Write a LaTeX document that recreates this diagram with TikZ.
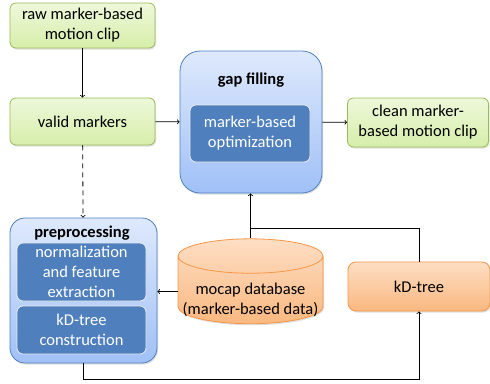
\documentclass[tikz,border=0pt]{standalone}
\usepackage{fontspec}
\setmainfont{Carlito}
\usepackage{tikz}
\usetikzlibrary{calc,shapes.geometric,arrows,shadows}

\definecolor{greenline}{RGB}{155,187,89}
\definecolor{greentop}{RGB}{238,248,218}
\definecolor{greenbot}{RGB}{214,238,170}
\definecolor{blueline}{RGB}{79,129,189}
\definecolor{bluetop}{RGB}{222,233,252}
\definecolor{bluebot}{RGB}{160,192,247}
\definecolor{blueinner}{RGB}{79,128,189}
\definecolor{orangeline}{RGB}{247,150,70}
\definecolor{orangetop}{RGB}{253,222,196}
\definecolor{orangebot}{RGB}{250,184,128}

\begin{document}
\begin{tikzpicture}[
x=1pt, y=-1pt,
font=\fontsize{16.5}{20}\selectfont,
shade/.style={drop shadow={opacity=.25, shadow xshift=1pt, shadow yshift=-1.5pt}},
io/.style={
	rectangle, rounded corners=6pt, draw=greenline, thick,
	top color=greentop, bottom color=greenbot,
	align=center, text=black, inner sep=2pt, shade
},
stage/.style={
	rectangle, draw=blueline, thick,
	top color=bluetop, bottom color=bluebot, shade
},
task/.style={
	rectangle, rounded corners=6pt, draw=white!85!gray, thick,
	fill=blueinner, text=white, align=center, inner sep=2pt,
	minimum width=129pt
},
data/.style={
	draw=orangeline, thick,
	top color=orangetop, bottom color=orangebot,
	align=center, text=black, shade
},
->, thick
]
\useasboundingbox (0,0) rectangle (490,383);

% input / output clips
\node[io, minimum width=145pt, minimum height=45pt] (raw) at (82.5,25.5) {raw marker-based\\motion clip};
\node[io, minimum width=145pt, minimum height=47pt] (valid) at (82.5,121.5) {valid markers};
\node[io, minimum width=141pt, minimum height=49pt] (clean) at (418,122.5) {clean marker-\\based motion clip};

% gap filling
\node[stage, rounded corners=20pt, minimum width=142pt, minimum height=142pt] (gap) at (251,122) {};
\node[font=\fontsize{16.5}{20}\selectfont\bfseries] (gaptitle) at (251,80) {gap filling};
\node[task, minimum width=120pt, minimum height=57pt] (opt) at (250,133.5) {marker-based\\optimization};

% preprocessing
\node[stage, rounded corners=15pt, minimum width=147pt, minimum height=145pt] (prep) at (83.5,290.5) {};
\node[font=\fontsize{16.5}{20}\selectfont\bfseries] (preptitle) at (82,233) {preprocessing};
\node[task, minimum height=58pt] (norm) at (81.5,272) {normalization\\and feature\\extraction};
\node[task, minimum height=48pt] (kdc) at (81.5,330) {kD-tree\\construction};

% data
\node[data, cylinder, shape border rotate=90, aspect=0.25, inner sep=1pt,
	minimum width=145pt, minimum height=77pt] (db) at (250.5,291.5)
	{\phantom{mocap database}\\\phantom{(marker-based data)}};
\node[align=center] (dbtext) at (250.5,300) {mocap database\\(marker-based data)};
\node[data, rectangle, rounded corners=8pt, minimum width=142pt, minimum height=49pt] (kd) at (419,286.5) {kD-tree};

\coordinate (jn) at (250.5,228);

\draw (raw) -- (valid);
\draw (valid) -- (gap);
\draw (gap) -- (clean);
\draw[dash pattern=on 5pt off 4pt] (valid) -- (prep);
\draw (db.west) -- (db.west -| prep.east);
\draw (db.north) -- (db.north |- gap.south);
\draw[-] (kd.north) |- (jn);
\draw (prep.south) -- ++(0,16) -| (kd.south);
\end{tikzpicture}
\end{document}
